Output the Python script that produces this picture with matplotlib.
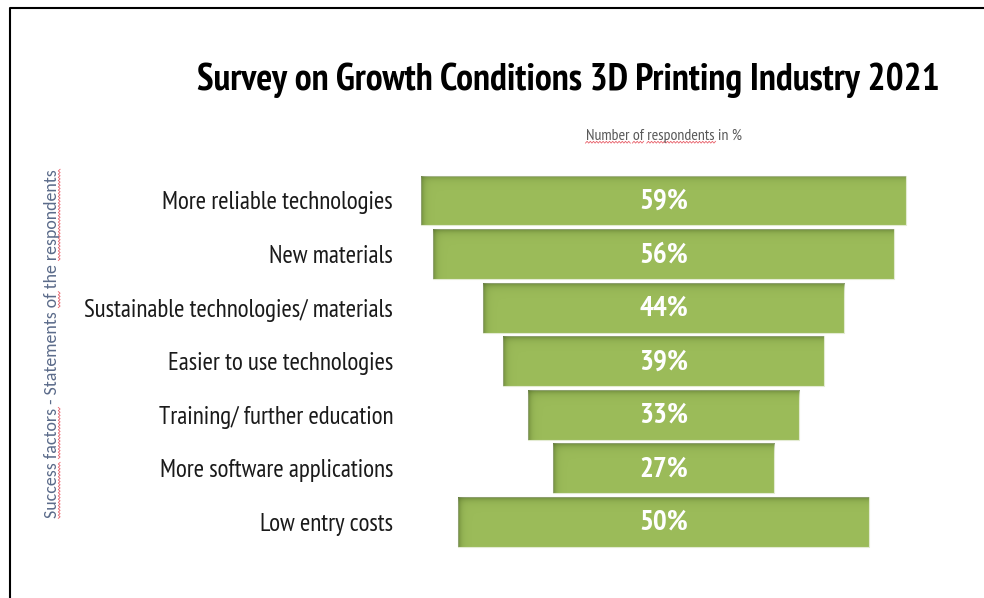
import numpy as np
import matplotlib
matplotlib.use("Agg")
import matplotlib.pyplot as plt
from matplotlib.lines import Line2D
from matplotlib.colors import to_rgb

# ---- data -------------------------------------------------------------
categories = [
    "More reliable technologies",
    "New materials",
    "Sustainable technologies/ materials",
    "Easier to use technologies",
    "Training/ further education",
    "More software applications",
    "Low entry costs",
]
shares = [59, 56, 44, 39, 33, 27, 50]          # % of respondents
title = "Survey on Growth Conditions 3D Printing Industry 2021"
subtitle = "Number of respondents in %"
ylabel = "Success factors - Statements of the respondents"

# ---- style ------------------------------------------------------------
W, H = 984, 598
NARROW = "PT Sans Narrow"
BAR = "#9BBB59"
SHADE = "#4a6420"

fig = plt.figure(figsize=(W / 100, H / 100), dpi=100)
fig.patch.set_facecolor("white")

# funnel axes: bars centred on 0
ax = fig.add_axes([400 / W, 1 - 553 / H, 527 / W, 383 / H])
XMAX = 32.06
ax.set_xlim(-XMAX, XMAX)
ax.set_ylim(6.579, -0.569)

vals = np.array(shares, dtype=float)
ypos = np.arange(len(categories))
bar_h = 0.93
bars = ax.barh(ypos, vals, left=-vals / 2, height=bar_h, color=BAR,
               edgecolor="#e3ebd2", linewidth=0.8, zorder=2)

# inner shadow along the top and left edge of each bar
px_x = 527 / (2 * XMAX)          # pixels per % on x
px_y = 383 / (6.579 + 0.569)     # pixels per category step
rgb = to_rgb(SHADE)
for v, y, patch in zip(vals, ypos, bars.patches):
    nx = max(int(round(v * px_x)), 2)
    ny = max(int(round(bar_h * px_y)), 2)
    dx = np.arange(nx) + 0.5
    dy = np.arange(ny) + 0.5
    a_left = 0.66 * np.exp(-dx / 2.8)
    a_top = 0.66 * np.exp(-dy / 3.0)
    alpha = 1 - (1 - a_left[None, :]) * (1 - a_top[:, None])
    img = np.zeros((ny, nx, 4))
    img[..., :3] = rgb
    img[..., 3] = alpha
    im = ax.imshow(img, extent=(-v / 2, v / 2, y + bar_h / 2, y - bar_h / 2),
                   origin="upper", aspect="auto", interpolation="bilinear",
                   zorder=3)
    im.set_clip_path(patch)
ax.set_xlim(-XMAX, XMAX)
ax.set_ylim(6.579, -0.569)

for v, y in zip(shares, ypos):
    ax.text(0, y + 0.02, f"{v}%", ha="center", va="center", color="white",
            fontsize=21, fontweight="bold", family=NARROW, zorder=4)

ax.set_yticks(ypos)
ax.set_yticklabels(categories, fontsize=18, family=NARROW, color="#1a1a1a")
ax.tick_params(axis="y", length=0, pad=5)
ax.set_xticks([])
for s in ax.spines.values():
    s.set_visible(False)
ax.patch.set_alpha(0)

# ---- titles -----------------------------------------------------------
fig.text(568.5 / W, 1 - 90 / H, title, ha="center", va="baseline",
         fontsize=27.1, fontweight="bold", family=NARROW, color="black")
sub = fig.text(663.5 / W, 1 - 140 / H, subtitle, ha="center", va="baseline",
               fontsize=11.4, family=NARROW, color="#595959")
ylab = fig.text(52 / W, 1 - 344 / H, ylabel, rotation=90, ha="center",
                va="center", fontsize=12.9, family="Carlito", color="#5b6b8a")

# frame: top and left rule
fig.add_artist(Line2D([9.5 / W, 9.5 / W, 1.0], [0.0, 1 - 8 / H, 1 - 8 / H],
                      color="black", lw=1.5, transform=fig.transFigure))

# ---- spell-check squiggles under flagged words -------------------------
fig.canvas.draw()
renderer = fig.canvas.get_renderer()


def word_spans(text_artist, words):
    s = text_artist.get_text()
    prop = text_artist.get_fontproperties()
    spans, pos = [], 0
    for w in words:
        i = s.index(w, pos)
        end = i + len(w)
        w_end, _, _ = renderer.get_text_width_height_descent(s[:end], prop, ismath=False)
        w_word, _, _ = renderer.get_text_width_height_descent(w, prop, ismath=False)
        spans.append((w_end - w_word, w_end))
        pos = end
    _, _, desc = renderer.get_text_width_height_descent(s, prop, ismath=False)
    return spans, desc


def zigzag(a, b, step=1.6, amp=0.9):
    t = np.arange(a, b + step, step)
    off = np.where(np.arange(len(t)) % 2 == 0, -amp, amp)
    return t, off


red = "#e8606a"
bb = sub.get_window_extent(renderer)
spans, desc = word_spans(sub, ["Number", "of", "respondents"])
base = bb.y0 + desc - 2.2
for a, b in spans:
    t, off = zigzag(bb.x0 + a, bb.x0 + b)
    fig.add_artist(Line2D(t, base + off, color=red, lw=0.6, transform=None))

bb = ylab.get_window_extent(renderer)
spans, desc = word_spans(ylab, ["Success", "factors", "of", "respondents"])
base = bb.x1 - desc + 2.2
for a, b in spans:
    t, off = zigzag(bb.y0 + a, bb.y0 + b)
    fig.add_artist(Line2D(base + off, t, color=red, lw=0.6, transform=None))

fig.savefig("out.png", dpi=100)
